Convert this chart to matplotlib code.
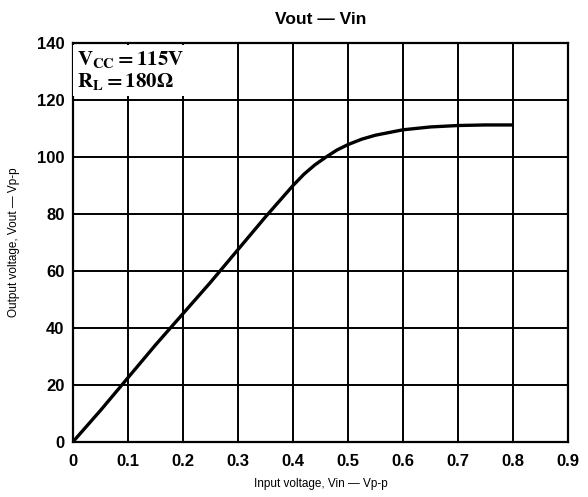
import matplotlib
matplotlib.use('Agg')
import matplotlib.pyplot as plt

# curve
vin = [0, 0.05, 0.1, 0.15, 0.2, 0.25, 0.3, 0.35, 0.4, 0.42, 0.44, 0.46, 0.48, 0.5, 0.525, 0.55, 0.6, 0.65, 0.7, 0.75, 0.8]
vout = [0, 11, 22.5, 34, 45, 56, 67.5, 79, 90, 94, 97.3, 100, 102.5, 104.4, 106.3, 107.7, 109.6, 110.6, 111.1, 111.3, 111.3]

xticks = [0, 0.1, 0.2, 0.3, 0.4, 0.5, 0.6, 0.7, 0.8, 0.9]
xlabels = ['0', '0.1', '0.2', '0.3', '0.4', '0.5', '0.6', '0.7', '0.8', '0.9']
yticks = [0, 20, 40, 60, 80, 100, 120, 140]

plt.rcParams['font.family'] = 'Liberation Sans'
plt.rcParams['mathtext.fontset'] = 'stix'

fig = plt.figure(figsize=(5.88, 4.97), dpi=100)
ax = fig.add_axes([0.124, 0.111, 0.842, 0.802])

ax.plot(vin, vout, color='black', linewidth=2.4, solid_capstyle='butt', zorder=4)

ax.set_xlim(0, 0.9)
ax.set_ylim(0, 140)
ax.set_xticks(xticks)
ax.set_xticklabels(xlabels)
ax.set_yticks(yticks)
ax.tick_params(length=0, labelsize=12)
ax.tick_params(axis='x', pad=9)
ax.tick_params(axis='y', pad=6)
for lab in ax.get_xticklabels() + ax.get_yticklabels():
    lab.set_fontweight('bold')

ax.grid(True, color='black', linewidth=1.4)
ax.set_axisbelow(True)
for s in ax.spines.values():
    s.set_linewidth(1.6)

ax.text(0.008, 138, '$\\mathbf{V_{CC}=115V}$\n$\\mathbf{R_L=180\\Omega}$',
        fontsize=15, va='top', ha='left', linespacing=1.05, zorder=5,
        bbox=dict(facecolor='white', edgecolor='none', pad=3))

ax.set_title('Vout — Vin', fontsize=12.5, fontweight='bold', pad=14)
ax.set_xlabel('Input voltage, Vin — Vp-p', fontsize=8.5, labelpad=6)
ax.set_ylabel('Output voltage, Vout — Vp-p', fontsize=8.5, labelpad=12)

fig.savefig('out.png', dpi=100)
